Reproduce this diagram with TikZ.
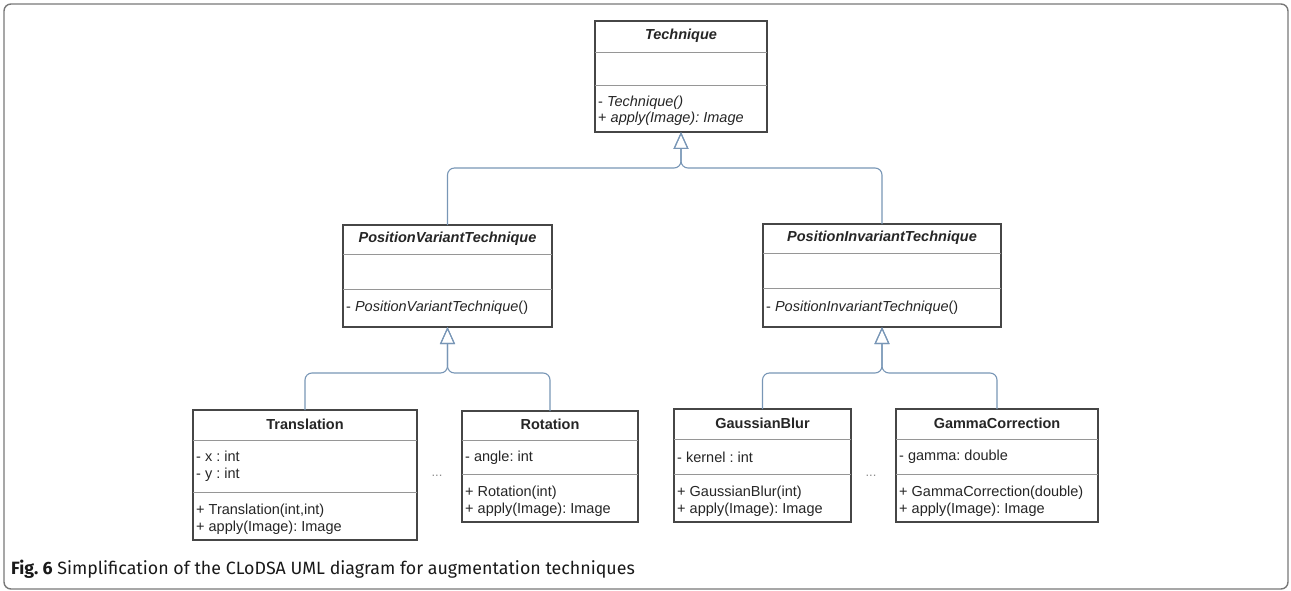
\documentclass[tikz,border=0pt]{standalone}
\usepackage{fontspec}
\setmainfont{Liberation Sans}
\newfontfamily\capfont{Fira Sans}
\usetikzlibrary{arrows.meta}
\frenchspacing
\definecolor{boxline}{RGB}{70,70,70}
\definecolor{divline}{RGB}{150,150,150}
\definecolor{connc}{RGB}{120,150,182}
\definecolor{framec}{RGB}{120,120,120}
\definecolor{dotc}{RGB}{140,140,140}
\tikzset{
  box/.style={draw=boxline, line width=1.1pt, fill=white, inner sep=0pt, outer sep=0pt},
  divider/.style={draw=divline, line width=0.9pt},
  umltitle/.style={font=\fontsize{14.5}{16.5}\selectfont\bfseries, inner sep=0pt, anchor=center, text=black!85},
  umltext/.style={font=\fontsize{14.5}{16.5}\selectfont, inner sep=0pt, anchor=west, align=left, text=black!85},
  conn/.style={draw=connc, line width=1.1pt, rounded corners=7pt, -{Triangle[open, width=15pt, length=17pt, line width=1.1pt]}},
  framebox/.style={draw=framec, line width=1.4pt, rounded corners=7pt},
  dots/.style={font=\fontsize{13}{15}\selectfont, text=dotc, inner sep=0pt},
  captext/.style={font=\capfont\fontsize{17.8}{20}\selectfont, inner sep=0pt, anchor=base west, text=black!90}
}
\newcommand\umlbox[7]{%
  \node[box, minimum width={#4-#2}, minimum height={#5-#3}] (#1) at ({(#2+#4)/2},{(#3+#5)/2}) {};
  \draw[divider] (#2,#6) -- (#4,#6);
  \draw[divider] (#2,#7) -- (#4,#7);
}
\begin{document}
\begin{tikzpicture}[x=1pt,y=-1pt]
\useasboundingbox (0,0) rectangle (1291,591);
\draw[framebox] (4,4) rectangle (1288,589);

% boxes
\umlbox{tech}{595}{21}{767}{132}{52}{85}
\node[umltitle] (techT) at (681,35.5) {\itshape Technique};
\node[umltext] (techO) at (598,111) {- \textit{Technique()}\\+ \textit{apply(Image): Image}};

\umlbox{pvt}{343}{225}{552}{327}{254}{289}
\node[umltitle] (pvtT) at (447.5,239) {\itshape PositionVariantTechnique};
\node[umltext] (pvtO) at (346,308) {- \textit{PositionVariantTechnique}()};

\umlbox{pit}{763}{224}{1001}{327}{253}{288}
\node[umltitle] (pitT) at (882,238) {\itshape PositionInvariantTechnique};
\node[umltext] (pitO) at (766,307.5) {- \textit{PositionInvariantTechnique}()};

\umlbox{trans}{193}{410}{417}{540}{440}{492}
\node[umltitle] (transT) at (305,424) {Translation};
\node[umltext] (transA) at (196,466) {- x : int\\- y : int};
\node[umltext] (transO) at (196,519) {+ Translation(int,int)\\+ apply(Image): Image};

\umlbox{rot}{462}{411}{638}{522}{440}{474}
\node[umltitle] (rotT) at (550,424.5) {Rotation};
\node[umltext] (rotA) at (465,457.5) {- angle: int};
\node[umltext] (rotO) at (465,501) {+ Rotation(int)\\+ apply(Image): Image};

\umlbox{gauss}{674}{409}{851}{522}{439}{474}
\node[umltitle] (gaussT) at (762.5,423.5) {GaussianBlur};
\node[umltext] (gaussA) at (677,457) {- kernel : int};
\node[umltext] (gaussO) at (677,501) {+ GaussianBlur(int)\\+ apply(Image): Image};

\umlbox{gamma}{896}{409}{1098}{522}{439}{474}
\node[umltitle] (gammaT) at (997,423.5) {GammaCorrection};
\node[umltext] (gammaA) at (899,457) {- gamma: double};
\node[umltext] (gammaO) at (899,501) {+ GammaCorrection(double)\\+ apply(Image): Image};

% ellipses
\node[dots] (dots1) at (437,476) {...};
\node[dots] (dots2) at (871,476) {...};

% junctions
\coordinate (j1) at (681,168);
\coordinate (j2) at (447.5,373);
\coordinate (j3) at (882,373);

% connectors
\draw[conn] (pvt.north) |- (j1) -- (tech.south);
\draw[conn] (pit.north) |- (j1) -- (tech.south);
\draw[conn] (trans.north) |- (j2) -- (pvt.south);
\draw[conn] (rot.north) |- (j2) -- (pvt.south);
\draw[conn] (gauss.north) |- (j3) -- (pit.south);
\draw[conn] (gamma.north) |- (j3) -- (pit.south);

% caption
\node[captext] (cap) at (11,574) {\bfseries Fig. 6\mdseries\ Simplification of the CLoDSA UML diagram for augmentation techniques};
\end{tikzpicture}
\end{document}
